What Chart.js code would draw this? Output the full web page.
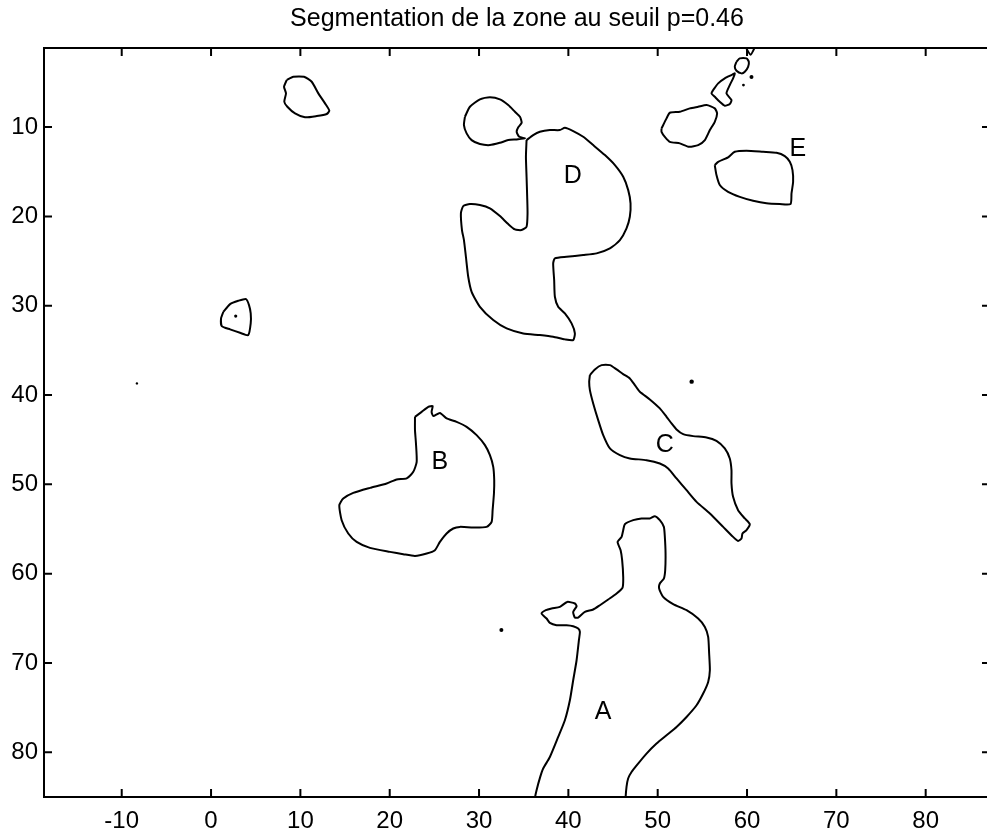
<!DOCTYPE html>
<html>
<head>
<meta charset="utf-8">
<script src="https://cdn.jsdelivr.net/npm/chart.js@4.4.1/dist/chart.umd.min.js"></script>
<style>
  html, body { margin: 0; padding: 0; background: #fff; overflow: hidden; }
  #wrap { width: 987px; height: 834px; overflow: hidden; }
</style>
</head>
<body>
<div id="wrap"><canvas id="seg" width="995" height="834"></canvas></div>
<script>
// tick labels
var xTicks = [-10, 0, 10, 20, 30, 40, 50, 60, 70, 80];
var yTicks = [10, 20, 30, 40, 50, 60, 70, 80];

// zone names and where they are written
var zoneNames = ['A', 'B', 'C', 'D', 'E'];
var zoneX = [43.9, 25.6, 50.8, 40.5, 65.7];
var zoneY = [75.5, 47.5, 45.6, 15.5, 12.5];

// contours, [x, y]
var blobTopLeft = [[8.47,4.74],[9.21,4.37],[10.41,4.37],[11.27,4.93],[12.01,6.23],[12.76,7.35],[13.24,8.17],[12.95,8.54],[11.83,8.77],[10.52,8.91],[9.40,8.47],[8.54,7.73],[8.20,7.17],[8.39,6.23],[8.17,5.49]];
var blobRing = [[1.38,30.68],[2.13,29.82],[3.05,29.45],[3.92,29.26],[4.25,29.93],[4.44,30.86],[4.44,31.98],[4.17,33.29],[3.24,33.03],[2.13,32.65],[1.20,32.28],[1.12,31.42]];
var blobNearD = [[28.42,8.85],[28.98,7.73],[30.10,6.90],[31.22,6.67],[32.34,6.90],[33.27,7.54],[34.02,8.29],[34.58,8.85],[34.77,9.52],[34.39,10.03],[34.21,10.53],[34.50,11.09],[35.13,11.27],[34.21,11.38],[33.27,11.46],[32.34,11.76],[31.22,12.02],[30.10,11.90],[29.17,11.46],[28.61,10.71],[28.31,9.78]];
var zoneD = [[35.32,11.46],[35.25,13.33],[35.32,15.57],[35.39,17.81],[35.43,19.66],[35.32,21.16],[34.76,21.53],[34.02,21.46],[33.27,20.86],[32.34,19.97],[31.22,19.10],[30.10,18.73],[28.98,18.62],[28.23,18.85],[27.97,19.66],[28.09,21.53],[28.31,22.65],[28.53,24.52],[28.79,26.76],[29.17,28.44],[30.10,30.12],[31.59,31.61],[33.09,32.54],[34.95,33.10],[36.81,33.29],[38.30,33.48],[39.61,33.77],[40.54,33.85],[40.73,33.10],[40.36,31.98],[39.61,30.86],[38.86,30.12],[38.49,29.00],[38.41,27.13],[38.30,25.26],[38.49,24.70],[39.80,24.52],[41.66,24.33],[43.16,24.14],[44.65,23.58],[45.77,22.65],[46.51,21.34],[46.88,20.04],[46.96,18.54],[46.70,17.06],[46.14,15.57],[45.21,14.26],[44.09,13.14],[42.78,12.02],[41.66,11.09],[40.54,10.45],[39.61,10.08],[39.05,10.34],[37.93,10.34],[36.81,10.53],[36.06,10.90]];
var notchTop = [[59.7,0.8],[60.4,1.9],[61.0,0.8]];
var blobTiny = [[58.82,2.69],[59.19,2.31],[59.94,2.31],[60.20,2.69],[60.12,3.25],[59.75,3.81],[59.38,3.99],[58.82,3.70],[58.63,3.25]];
var blobStrip = [[56.21,5.86],[56.77,5.11],[57.51,4.55],[58.26,4.18],[58.63,3.99],[58.44,4.55],[58.07,5.30],[57.70,6.23],[58.26,6.98],[58.07,7.42],[57.51,7.61],[56.95,7.17],[56.39,6.61],[56.02,6.23]];
var blobNearE = [[50.43,10.15],[50.99,9.03],[51.36,8.40],[52.48,8.29],[53.60,7.91],[54.53,7.73],[55.47,7.54],[56.39,7.91],[56.65,8.47],[56.39,9.41],[55.84,10.34],[55.28,11.46],[54.53,12.02],[53.52,12.21],[52.48,11.83],[51.36,11.65],[50.80,11.09],[50.43,10.53]];
var zoneE = [[56.39,14.26],[56.77,13.89],[57.88,13.39],[58.63,12.77],[59.94,12.65],[61.80,12.77],[63.30,12.88],[64.23,13.25],[64.79,13.89],[65.09,14.82],[65.16,16.13],[64.98,17.42],[64.87,18.62],[63.67,18.62],[62.18,18.54],[60.68,18.25],[59.19,17.81],[57.88,17.25],[56.95,16.49],[56.58,15.38]];
var zoneB = [[22.83,42.44],[23.58,41.88],[24.32,41.32],[24.81,41.24],[24.69,41.88],[24.88,42.36],[25.62,42.00],[26.37,42.62],[27.49,43.00],[28.61,43.56],[29.73,44.49],[30.66,45.61],[31.22,46.73],[31.59,48.04],[31.70,49.53],[31.67,51.02],[31.52,52.89],[31.41,54.20],[30.85,54.76],[29.35,54.83],[27.86,54.76],[27.11,54.94],[26.37,55.50],[25.62,56.44],[25.06,57.37],[24.14,57.74],[22.83,58.01],[21.52,57.82],[20.03,57.56],[17.79,57.11],[16.30,56.44],[15.36,55.50],[14.62,54.01],[14.36,52.33],[14.80,51.58],[15.92,50.95],[17.79,50.39],[19.66,49.90],[20.78,49.45],[21.90,49.34],[22.64,48.60],[23.02,47.48],[22.94,45.42],[22.83,43.93]];
var zoneC = [[42.41,37.77],[42.97,37.13],[43.72,36.65],[44.65,36.65],[45.40,37.13],[46.13,37.66],[46.88,38.14],[47.44,38.89],[48.00,39.64],[49.12,40.49],[50.24,41.50],[50.99,42.44],[51.55,43.18],[52.11,43.85],[52.85,44.38],[53.97,44.60],[55.47,44.75],[56.58,45.13],[57.51,45.98],[58.07,47.10],[58.26,48.41],[58.26,49.90],[58.44,51.40],[59.00,52.89],[59.75,53.82],[60.31,54.46],[59.94,55.13],[59.49,55.50],[59.38,56.06],[59.00,56.33],[58.44,55.88],[57.33,54.76],[55.84,53.26],[54.35,51.96],[53.23,50.65],[52.11,49.34],[51.17,48.22],[50.24,47.66],[48.75,47.29],[46.88,47.10],[45.77,46.73],[44.65,45.98],[43.90,44.49],[43.34,42.81],[42.78,40.94],[42.41,39.45],[42.33,38.52]];
var zoneA = [[36.20,86.2],[36.25,85.17],[36.44,84.24],[36.85,82.75],[37.18,81.81],[37.93,80.52],[38.86,78.28],[39.61,76.41],[40.17,74.17],[40.54,71.93],[40.92,69.69],[41.18,67.45],[41.29,66.52],[41.10,66.14],[40.54,65.88],[39.80,65.77],[38.68,65.77],[37.93,65.51],[37.56,65.02],[37.00,64.46],[37.48,64.09],[38.12,63.90],[39.05,63.72],[39.87,63.16],[40.73,63.34],[40.92,63.64],[40.54,64.28],[40.73,64.91],[41.10,64.91],[41.85,64.28],[42.78,64.01],[43.53,63.53],[44.46,62.89],[45.40,62.22],[46.07,61.55],[46.14,60.36],[46.02,58.49],[45.85,57.37],[45.51,56.44],[45.96,55.88],[46.14,55.13],[46.32,54.46],[47.26,54.01],[48.19,53.82],[49.12,53.82],[49.68,53.56],[50.24,54.01],[50.69,54.76],[50.80,55.88],[50.88,57.74],[50.84,59.61],[50.69,60.54],[50.24,61.10],[50.16,61.66],[50.61,62.60],[51.73,63.41],[53.23,64.09],[54.53,65.02],[55.28,65.96],[55.65,67.08],[55.76,68.94],[55.84,70.81],[55.65,72.12],[55.09,73.42],[54.35,74.73],[53.23,76.04],[52.11,77.16],[50.99,78.09],[49.87,79.02],[48.75,80.14],[47.81,81.26],[47.07,82.20],[46.69,82.93],[46.51,83.87],[46.40,85.17],[46.38,86.2]];

// isolated specks
var speckX = [2.76, 32.5, 60.5, 59.6, 53.8, -8.3];
var speckY = [31.16, 66.3, 4.4, 5.3, 38.5, 38.7];
var speckSize = [1.6, 2, 2, 1.4, 2.2, 1.2];

var closedShapes = [blobTopLeft, blobRing, blobNearD, zoneD, blobTiny, blobStrip, blobNearE, zoneE, zoneB, zoneC];
var openShapes = [notchTop, zoneA];

var fontFam = '"Liberation Sans", Arial, Helvetica, sans-serif';

function toPoints(arr, close) {
    var pts = arr.map(function (p) { return { x: p[0], y: p[1] }; });
    if (close) pts.push({ x: arr[0][0], y: arr[0][1] });
    return pts;
}

function lineSet(arr, close) {
    return {
        data: toPoints(arr, close),
        showLine: true,
        borderColor: '#000',
        borderWidth: 2,
        pointRadius: 0,
        tension: 0.2,
        fill: false
    };
}

var datasets = [];
closedShapes.forEach(function (s) { datasets.push(lineSet(s, true)); });
openShapes.forEach(function (s) { datasets.push(lineSet(s, false)); });
datasets.push({
    data: speckX.map(function (v, i) { return { x: v, y: speckY[i] }; }),
    showLine: false,
    pointRadius: speckSize,
    pointBackgroundColor: '#000',
    pointBorderWidth: 0
});

// frame, inward ticks and zone letters
var framePlugin = {
    id: 'frame',
    afterDraw: function (chart) {
        var ctx = chart.ctx;
        var a = chart.chartArea;
        var sx = chart.scales.x, sy = chart.scales.y;
        var len = 8;
        ctx.save();
        ctx.strokeStyle = '#000';
        ctx.lineWidth = 2;
        ctx.strokeRect(a.left, a.top, a.right - a.left, a.bottom - a.top);
        ctx.beginPath();
        xTicks.forEach(function (v) {
            var px = sx.getPixelForValue(v);
            ctx.moveTo(px, a.bottom); ctx.lineTo(px, a.bottom - len);
            ctx.moveTo(px, a.top); ctx.lineTo(px, a.top + len);
        });
        yTicks.forEach(function (v) {
            var py = sy.getPixelForValue(v);
            ctx.moveTo(a.left, py); ctx.lineTo(a.left + len, py);
            ctx.moveTo(a.right, py); ctx.lineTo(a.right - len, py);
        });
        ctx.stroke();
        ctx.fillStyle = '#000';
        ctx.font = '25px ' + fontFam;
        ctx.textAlign = 'center';
        ctx.textBaseline = 'middle';
        zoneNames.forEach(function (n, i) {
            ctx.fillText(n, sx.getPixelForValue(zoneX[i]), sy.getPixelForValue(zoneY[i]));
        });
        ctx.restore();
    }
};

new Chart('seg', {
    type: 'scatter',
    data: { datasets: datasets },
    plugins: [framePlugin],
    options: {
        responsive: false,
        animation: false,
        devicePixelRatio: 1,
        layout: { padding: { left: 0, right: 5, top: 0, bottom: 0 } },
        plugins: {
            legend: { display: false },
            tooltip: { enabled: false },
            title: {
                display: true,
                fullSize: false,
                text: 'Segmentation de la zone au seuil p=0.46',
                color: '#000',
                font: { family: fontFam, size: 25, weight: 'normal' },
                padding: { top: 4, bottom: 14 }
            }
        },
        scales: {
            x: {
                type: 'linear',
                min: -18.7,
                max: 87.2,
                afterBuildTicks: function (s) { s.ticks = xTicks.map(function (v) { return { value: v }; }); },
                afterFit: function (s) { s.height = 37; },
                grid: { display: false, drawTicks: false },
                border: { display: false },
                ticks: { color: '#000', padding: 10, maxRotation: 0, font: { family: fontFam, size: 24 } }
            },
            y: {
                type: 'linear',
                reverse: true,
                min: 1.15,
                max: 85,
                afterBuildTicks: function (s) { s.ticks = yTicks.map(function (v) { return { value: v }; }); },
                afterFit: function (s) { s.width = 44; },
                grid: { display: false, drawTicks: false },
                border: { display: false },
                ticks: { color: '#000', padding: 6, font: { family: fontFam, size: 24 } }
            }
        }
    }
});
</script>
</body>
</html>
